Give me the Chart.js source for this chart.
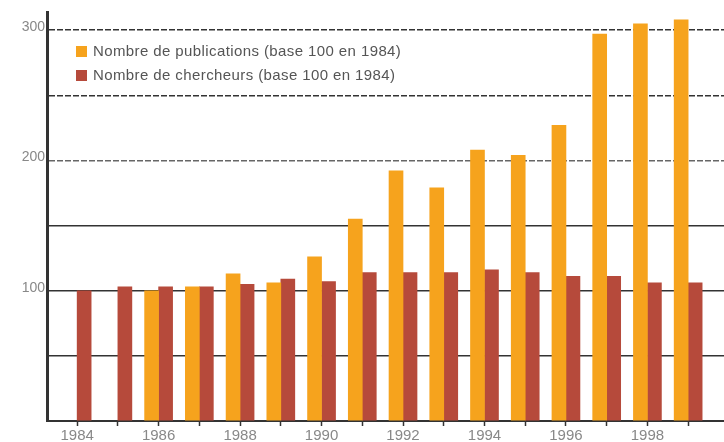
<!DOCTYPE html>
<html>
<head>
<meta charset="utf-8">
<script src="https://cdn.jsdelivr.net/npm/chart.js@4"></script>
<style>
  body { margin: 0; background: #fff; }
  #wrap { position: relative; width: 724px; height: 442px; }
  #legende { position: absolute; left: 76px; top: 39px; font: 15px "Liberation Sans", Arial, sans-serif; letter-spacing: 0.4px; color: #555; }
  #legende div { height: 24px; line-height: 24px; white-space: nowrap; }
  #legende span { display: inline-block; width: 11px; height: 11px; margin-right: 6px; vertical-align: -1px; }
</style>
</head>
<body>
<div id="wrap">
  <canvas id="graphique" width="724" height="442"></canvas>
  <div id="legende"></div>
</div>
<script>
// Données (base 100 en 1984)
const annees = [1984, 1985, 1986, 1987, 1988, 1989, 1990, 1991, 1992, 1993, 1994, 1995, 1996, 1997, 1998, 1999];
const publications = [null, null, 100, 103, 113, 106, 126, 155, 192, 179, 208, 204, 227, 297, 305, 308];
const chercheurs = [100, 103, 103, 103, 105, 109, 107, 114, 114, 114, 116, 114, 111, 111, 106, 106];
const graduationsY = [0, 50, 100, 150, 200, 250, 300];
const etiquettesY = [100, 200, 300];

const series = [
    { label: "Nombre de publications (base 100 en 1984)", couleur: '#F6A31D', valeurs: publications },
    { label: "Nombre de chercheurs (base 100 en 1984)", couleur: '#B64A3B', valeurs: chercheurs }
];

const config = {
    type: 'bar',
    data: {
        datasets: series.map(s => ({
            label: s.label,
            backgroundColor: s.couleur,
            data: annees.map((a, i) => ({ x: a, y: s.valeurs[i] })),
            barThickness: 14
        }))
    },
    options: {
        responsive: false,
        animation: false,
        layout: { padding: { top: 12, right: 0, left: 0, bottom: 0 } },
        plugins: { legend: { display: false }, tooltip: { enabled: false } },
        scales: {
            x: {
                type: 'linear',
                offset: false,
                min: 1983.26,
                max: 1999.88,
                afterBuildTicks: axe => { axe.ticks = annees.map(a => ({ value: a })); },
                afterFit: axe => { axe.height = 21; },
                ticks: {
                    autoSkip: false,
                    maxRotation: 0,
                    padding: 1,
                    color: '#888',
                    font: { family: 'Liberation Sans', size: 15 },
                    callback: v => (v % 2 === 0 ? String(v) : '')
                },
                grid: { offset: false, drawOnChartArea: false, tickLength: 5, tickColor: '#333', tickWidth: 1.5 },
                border: { color: '#333', width: 2 }
            },
            y: {
                min: 0,
                max: 314,
                afterBuildTicks: axe => { axe.ticks = graduationsY.map(v => ({ value: v })); },
                afterFit: axe => { axe.width = 47; },
                ticks: {
                    padding: 2,
                    labelOffset: -3,
                    color: '#888',
                    font: { family: 'Liberation Sans', size: 14 },
                    callback: v => (etiquettesY.includes(v) ? String(v) : '')
                },
                grid: {
                    drawTicks: false,
                    color: ctx => (ctx.tick && ctx.tick.value === 200 ? '#666' : '#333'),
                    lineWidth: 1.5
                },
                border: {
                    color: '#333',
                    width: 3,
                    dash: ctx => (ctx.tick && ctx.tick.value >= 200 ? [6, 2] : [])
                }
            }
        }
    }
};

window.onload = function() {
    const ctx = document.getElementById('graphique').getContext('2d');
    new Chart(ctx, config);

    // Légende placée dans la zone du graphique
    const legende = document.getElementById('legende');
    series.forEach(s => {
        const ligne = document.createElement('div');
        const carre = document.createElement('span');
        carre.style.background = s.couleur;
        ligne.appendChild(carre);
        ligne.appendChild(document.createTextNode(s.label));
        legende.appendChild(ligne);
    });
}
</script>
</body>
</html>
